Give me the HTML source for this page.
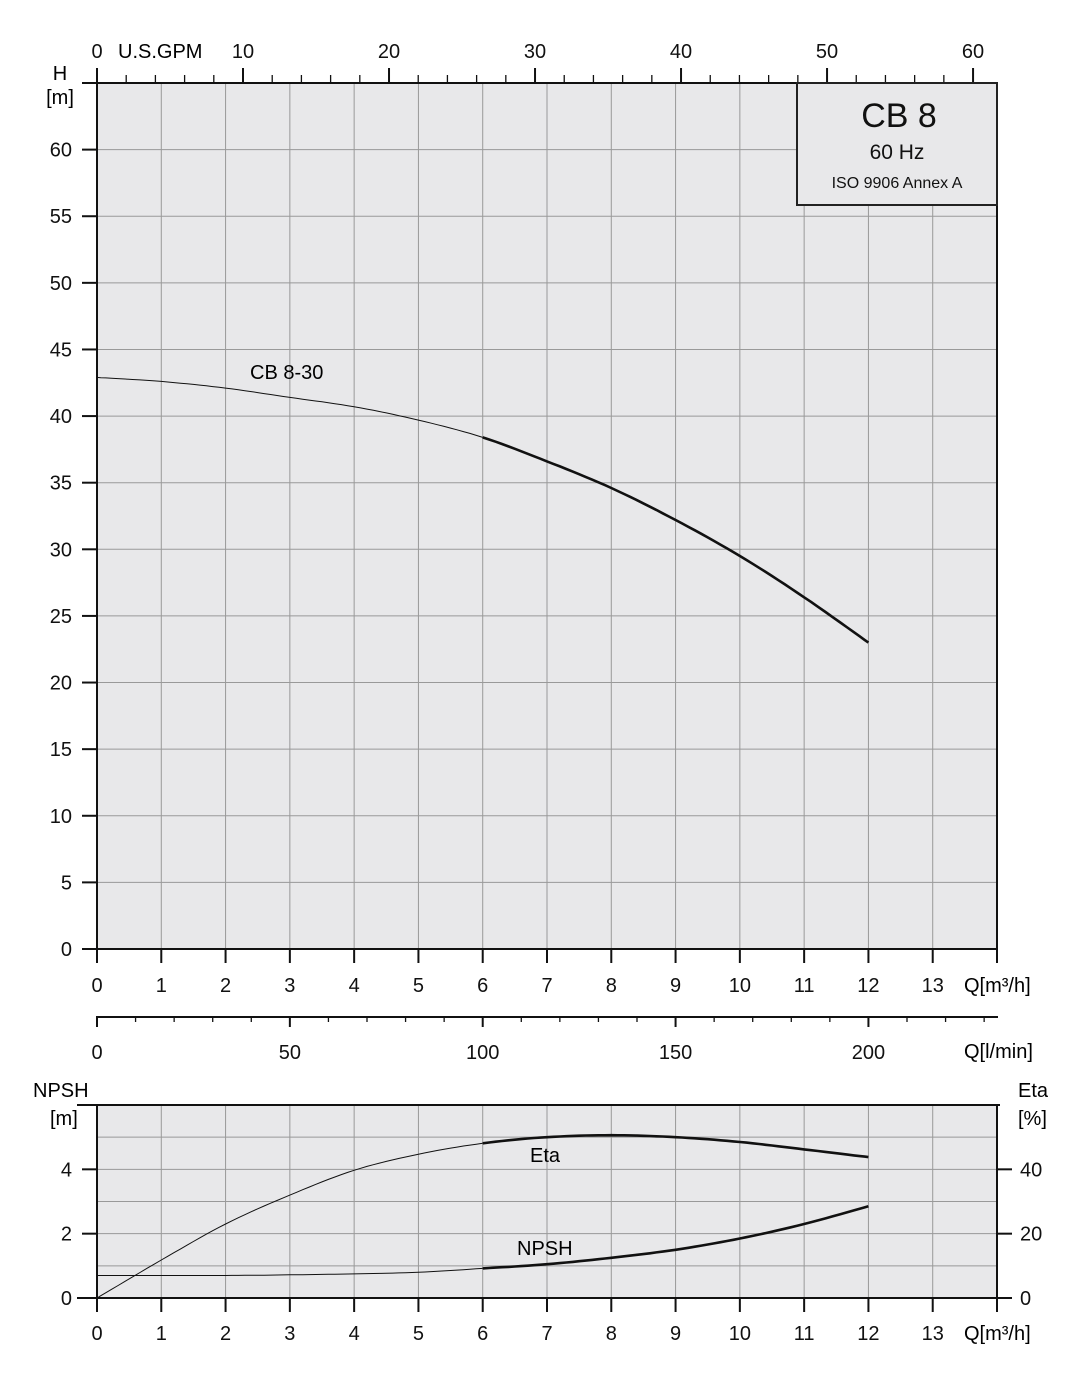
<!DOCTYPE html>
<html><head><meta charset="utf-8"><style>
html,body{margin:0;padding:0;background:#fff}
svg{display:block;font-family:"Liberation Sans",Arial,sans-serif}
</style></head><body>
<svg id="s" width="1092" height="1376" viewBox="0 0 1092 1376" xmlns="http://www.w3.org/2000/svg">
<rect x="97" y="83" width="900" height="866" fill="#e8e8ea"/>
<rect x="97" y="1105" width="900" height="193" fill="#e8e8ea"/>
<g id="g"></g>
<rect x="797" y="83" width="200" height="122" fill="#e8e8ea" stroke="#222" stroke-width="2"/>
<text x="899" y="127" font-size="34" text-anchor="middle" fill="#111">CB 8</text>
<text x="897" y="159" font-size="21" text-anchor="middle" fill="#111">60 Hz</text>
<text x="897" y="188" font-size="16" text-anchor="middle" fill="#111">ISO 9906 Annex A</text>
<text x="60" y="80" font-size="20" text-anchor="middle">H</text>
<text x="60" y="104" font-size="20" text-anchor="middle">[m]</text>
<text x="118" y="58" font-size="20">U.S.GPM</text>
<text x="964" y="992" font-size="20">Q[m³/h]</text>
<text x="964" y="1058" font-size="20">Q[l/min]</text>
<text x="964" y="1340" font-size="20">Q[m³/h]</text>
<text x="33" y="1097" font-size="20">NPSH</text>
<text x="50" y="1125" font-size="20">[m]</text>
<text x="1018" y="1097" font-size="20">Eta</text>
<text x="1018" y="1125" font-size="20">[%]</text>
<text x="250" y="379" font-size="20">CB 8-30</text>
<text x="530" y="1162" font-size="20">Eta</text>
<text x="517" y="1255" font-size="20">NPSH</text>
</svg>
<script>
var g=document.getElementById('g'),h='';
function L(x1,y1,x2,y2,c,w){h+='<line x1="'+x1+'" y1="'+y1+'" x2="'+x2+'" y2="'+y2+'" stroke="'+c+'" stroke-width="'+w+'"/>';}
function T(x,y,t,a){h+='<text x="'+x+'" y="'+y+'" font-size="20" text-anchor="'+(a||'middle')+'" fill="#111">'+t+'</text>';}
var X=function(q){return 97+q*900/14;};
var Y=function(H){return 949-H*866/65;};
var Y2=function(n){return 1298-n*193/6;};
for(var k=1;k<14;k++){L(X(k),83,X(k),949,'#999',1);L(X(k),1105,X(k),1298,'#999',1);}
for(var k=1;k<13;k++){L(97,Y(k*5),997,Y(k*5),'#999',1);}
for(var k=1;k<6;k++){L(97,Y2(k),997,Y2(k),'#999',1);}
L(97,82,97,950,'#111',2);L(96,949,998,949,'#111',2);L(997,83,997,949,'#111',2);
L(82,83,998,83,'#111',2);
for(var k=0;k<=12;k++){L(82,Y(k*5),97,Y(k*5),'#111',2);T(72,Y(k*5)+7,k*5,'end');}
for(var k=0;k<=14;k++){L(X(k),949,X(k),963,'#111',2);if(k<14)T(X(k),992,k);}
var gp=900/14*0.2271247;
for(var k=0;k<=61;k+=2){var x=97+k*gp;if(x>998)break;if(k%10==0){L(x,83,x,68,'#111',2);T(x,58,k);}else L(x,83,x,75,'#111',1.3);}
L(97,1017,998,1017,'#111',2);
var lp=900/14*0.06;
for(var k=0;k<=230;k+=10){var x=97+k*lp;if(k%50==0){L(x,1016,x,1027,'#111',2);T(x,1059,k);}else L(x,1017,x,1022,'#111',1.3);}
L(77,1105,1000,1105,'#111',2);L(97,1105,97,1299,'#111',2);L(997,1105,997,1299,'#111',2);L(77,1298,1012,1298,'#111',2);
for(var k=0;k<=4;k+=2){L(82,Y2(k),97,Y2(k),'#111',2);T(72,Y2(k)+7,k,'end');L(997,Y2(k),1012,Y2(k),'#111',2);T(1020,Y2(k)+7,k*10,'start');}
for(var k=0;k<=14;k++){L(X(k),1298,X(k),1312,'#111',2);if(k<14)T(X(k),1340,k);}
function P(pts,fy,a,b,w){var s='';for(var i=0;i<pts.length;i++){var q=pts[i][0];if(q<a-1e-6||q>b+1e-6)continue;s+=(s==''?'M':'L')+X(q).toFixed(1)+' '+fy(pts[i][1]).toFixed(1)+' ';}h+='<path d="'+s+'" fill="none" stroke="#111" stroke-width="'+w+'" stroke-linejoin="round" stroke-linecap="butt"/>';}
function interp(arr){var o=[];for(var i=0;i<arr.length-1;i++){for(var j=0;j<10;j++){var t=j/10;var p0=arr[Math.max(i-1,0)],p1=arr[i],p2=arr[i+1],p3=arr[Math.min(i+2,arr.length-1)];var t2=t*t,t3=t2*t;var f=function(a,b,c,d){return 0.5*(2*b+(-a+c)*t+(2*a-5*b+4*c-d)*t2+(-a+3*b-3*c+d)*t3);};o.push([f(p0[0],p1[0],p2[0],p3[0]),f(p0[1],p1[1],p2[1],p3[1])]);}}o.push(arr[arr.length-1]);return o;}
var Hp=interp([[0,42.9],[1,42.6],[2,42.1],[3,41.4],[4,40.7],[5,39.7],[6,38.4],[7,36.6],[8,34.6],[9,32.2],[10,29.5],[11,26.4],[12,23]]);
P(Hp,Y,0,6,1);P(Hp,Y,6,12,2.6);
var Ep=interp([[0,0],[1,1.18],[2,2.3],[3,3.2],[4,3.97],[5,4.47],[6,4.81],[7,5.0],[8,5.06],[9,5.0],[10,4.85],[11,4.62],[12,4.38]]);
P(Ep,Y2,0,6,1);P(Ep,Y2,6,12,2.6);
var Np=interp([[0,0.7],[1,0.7],[2,0.7],[3,0.72],[4,0.75],[5,0.8],[6,0.92],[7,1.05],[8,1.25],[9,1.5],[10,1.85],[11,2.3],[12,2.85]]);
P(Np,Y2,0,6,1);P(Np,Y2,6,12,2.6);
g.innerHTML=h;
</script>
</body></html>
